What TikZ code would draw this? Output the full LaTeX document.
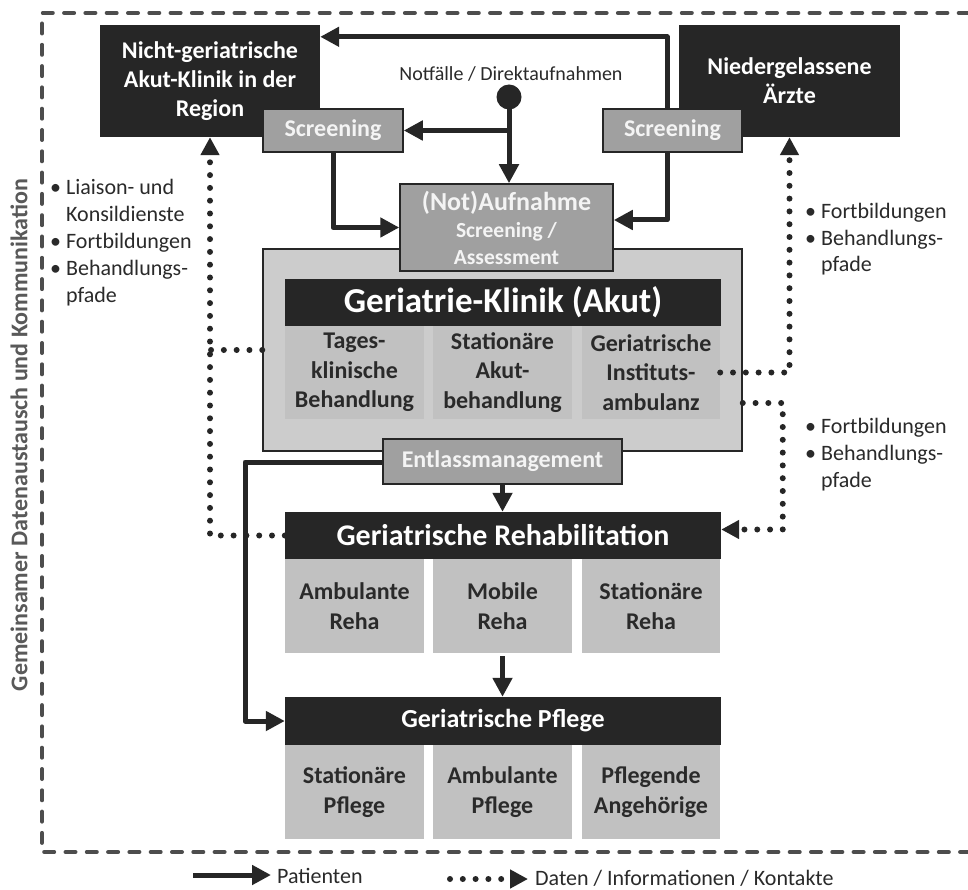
\documentclass[tikz,border=0pt]{standalone}
\usepackage{fontspec}
\setmainfont{Carlito}
\usetikzlibrary{arrows.meta,calc}
\definecolor{dk}{HTML}{262626}
\definecolor{mg}{HTML}{A0A0A0}
\definecolor{lg}{HTML}{CCCCCC}
\definecolor{sg}{HTML}{C1C1C1}
\definecolor{fr}{HTML}{4D4D4D}
\definecolor{tx}{HTML}{2A2A2A}
\definecolor{gtx}{HTML}{595959}
\definecolor{wt}{HTML}{F4F4F4}
\begin{document}
\begin{tikzpicture}[x=1pt,y=-1pt,
  blk/.style={fill=dk,text=white,inner sep=0pt,align=center,font=\bfseries\fontsize{24}{29}\selectfont},
  gbox/.style={fill=mg,draw=dk,line width=1.5pt,text=wt,inner sep=0pt,align=center,font=\bfseries\fontsize{24}{28}\selectfont},
  subbox/.style={fill=sg,text=tx,inner sep=0pt,align=center,minimum width=139pt,minimum height=94pt,font=\bfseries\fontsize{24}{29.5}\selectfont},
  hdr/.style={fill=dk,text=white,inner sep=0pt,minimum width=436pt,minimum height=47pt},
  pat/.style={draw=dk,line width=5pt,line join=round,-{Triangle[length=19pt,width=19pt]}},
  dat/.style={draw=dk,line width=6pt,line cap=round,dash pattern=on 0pt off 12.8pt},
  datarr/.style={dat,-{Triangle[length=18pt,width=18pt]}},
  frm/.style={draw=fr,line width=4pt,line cap=round,dash pattern=on 10pt off 11.3pt},
  bul/.style={text=tx,inner sep=0pt,align=left,font=\fontsize{22}{26.8}\selectfont},
]
\useasboundingbox (0,0) rectangle (968,890);
\clip (0,0) rectangle (968,890);
\fill[white] (0,0) rectangle (968,890);

% frame
\draw[frm] (990,13) -- (42,13) -- (42,852) -- (990,852);
\node[rotate=90,text=gtx,inner sep=0pt,font=\bfseries\fontsize{24}{28}\selectfont] (lbl) at (19,435) {Gemeinsamer Datenaustausch und Kommunikation};

% top boxes
\node[blk,minimum width=220pt,minimum height=112pt] (nicht) at (210,81) {Nicht-geriatrische\\Akut-Klinik in der\\Region};
\node[blk,minimum width=221pt,minimum height=112pt] (nied) at (789.5,81) {Niedergelassene\\Ärzte};
\node[gbox,minimum width=140pt,minimum height=43pt] (scrL) at (333,130.5) {Screening};
\node[gbox,minimum width=139pt,minimum height=43pt] (scrR) at (672.5,130.5) {Screening};

\node[text=tx,inner sep=0pt,font=\fontsize{20}{24}\selectfont] (notf) at (511,74) {Notfälle / Direktaufnahmen};
\node[circle,fill=dk,minimum size=25pt,inner sep=0pt] (dot) at (509,97) {};

% Klinik
\node[fill=lg,draw=dk,line width=1.5pt,minimum width=479pt,minimum height=202pt,inner sep=0pt] (klinik) at (502.5,350) {};
\node[hdr,font=\bfseries\fontsize{35}{40}\selectfont] (kh) at (503,302.5) {Geriatrie-Klinik (Akut)};
\node[subbox,minimum height=93pt] (k1) at (354.5,372.5) {Tages-\\klinische\\Behandlung};
\node[subbox,minimum height=93pt] (k2) at (502.5,372.5) {Stationäre\\Akut-\\behandlung};
\node[subbox,minimum height=93pt,minimum width=138pt] (k3) at (651,372.5) {Geriatrische\\Instituts-\\ambulanz};

\node[gbox,minimum width=213pt,minimum height=87pt,font=\bfseries\fontsize{21.5}{27}\selectfont] (auf) at (506.5,227.5) {{\fontsize{26}{30}\selectfont (Not)Aufnahme}\\Screening /\\Assessment};
\node[gbox,minimum width=239pt,minimum height=45pt] (entl) at (502.5,461.5) {Entlassmanagement};

% Rehabilitation
\node[hdr,font=\bfseries\fontsize{30}{34}\selectfont] (rh) at (503,535.5) {Geriatrische Rehabilitation};
\node[subbox] (r1) at (354.5,606) {Ambulante\\Reha};
\node[subbox] (r2) at (502.5,606) {Mobile\\Reha};
\node[subbox,minimum width=138pt] (r3) at (651,606) {Stationäre\\Reha};

% Pflege
\node[hdr,minimum height=48pt,font=\bfseries\fontsize{26}{30}\selectfont] (ph) at (503,721) {Geriatrische Pflege};
\node[subbox] (p1) at (354.5,792) {Stationäre\\Pflege};
\node[subbox] (p2) at (502.5,792) {Ambulante\\Pflege};
\node[subbox,minimum width=138pt] (p3) at (651,792) {Pflegende\\Angehörige};

% patient flows
\draw[pat] ([xshift=-5.5pt]scrR.north) |- ([yshift=-12pt]nicht.north east);
\draw[pat] ([xshift=-5.5pt]scrR.south) |- ([yshift=7.5pt]auf.east);
\draw[pat] (scrL.south) |- (auf.west);
\draw[pat] (dot.center) -- (dot.center |- auf.north);
\draw[pat] (dot.center |- scrL.east) -- (scrL.east);
\draw[pat] (entl.south) -- (entl.south |- rh.north);
\coordinate (cl) at (245,462);
\draw[pat] (entl.west |- cl) -- (cl) |- (ph.west);
\draw[pat] ([yshift=-3pt]r2.south) -- (r2.south |- ph.north);

% data flows
\draw[datarr] (rh.west) -| (nicht.south);
\draw[dat] (klinik.west) -- (klinik.west -| nicht.south);
\draw[datarr] (k3.east) -| (nied.south);
\draw[datarr] ([yshift=-53pt]klinik.east) -- ++(40pt,0) |- ([yshift=6pt]rh.east);

% bullet texts (anchor base = last line)
\node[bul,anchor=base west] (bl) at (50,302) {\textbullet\ Liaison- und\\\hphantom{\textbullet\ }Konsildienste\\\textbullet\ Fortbildungen\\\textbullet\ Behandlungs-\\\hphantom{\textbullet\ }pfade};
\node[bul,anchor=base west] (br1) at (805,272) {\textbullet\ Fortbildungen\\\textbullet\ Behandlungs-\\\hphantom{\textbullet\ }pfade};
\node[bul,anchor=base west] (br2) at (805,487) {\textbullet\ Fortbildungen\\\textbullet\ Behandlungs-\\\hphantom{\textbullet\ }pfade};

% legend
\coordinate (lp1) at (193,875);
\coordinate (lp2) at (271,875);
\draw[pat] (lp1) -- (lp2);
\node[text=tx,inner sep=0pt,anchor=west,font=\fontsize{22}{26}\selectfont] (lpt) at (277,876) {Patienten};
\coordinate (ld1) at (450,879);
\coordinate (ld2) at (528,879);
\draw[datarr] (ld1) -- (ld2);
\node[text=tx,inner sep=0pt,anchor=west,font=\fontsize{22}{26}\selectfont] (ldt) at (535,878) {Daten / Informationen / Kontakte};
\end{tikzpicture}
\end{document}
